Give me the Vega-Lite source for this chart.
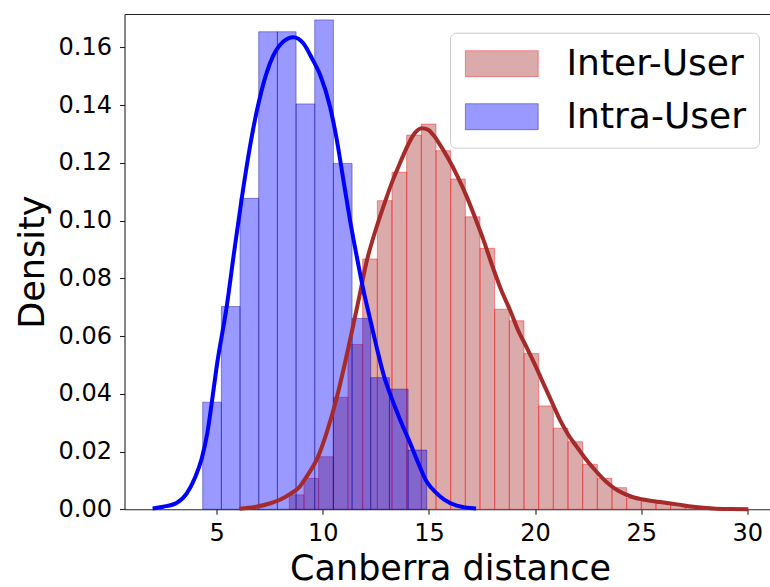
{
  "$schema": "https://vega.github.io/schema/vega-lite/v6.json",
  "width": 645.5,
  "height": 495.3,
  "autosize": "none",
  "padding": {"left": 124.5, "top": 14, "right": 0, "bottom": 77.7},
  "background": "white",
  "config": {
    "view": {"stroke": null},
    "font": "DejaVu Sans",
    "axis": {
      "domainColor": "#222", "domainWidth": 1.1,
      "tickColor": "#222", "tickWidth": 1.1, "tickSize": 5,
      "labelFont": "DejaVu Sans", "labelFontSize": 24, "labelColor": "#000",
      "titleFont": "DejaVu Sans", "titleFontSize": 35, "titleFontWeight": "normal", "titleColor": "#000",
      "grid": false
    }
  },
  "datasets": {
    "hist": [
      {"series": "Inter-User", "x0": 8.421, "x1": 9.112, "d": 0.0050},
      {"series": "Inter-User", "x0": 9.112, "x1": 9.803, "d": 0.0107},
      {"series": "Inter-User", "x0": 9.803, "x1": 10.494, "d": 0.0182},
      {"series": "Inter-User", "x0": 10.494, "x1": 11.185, "d": 0.0388},
      {"series": "Inter-User", "x0": 11.185, "x1": 11.876, "d": 0.0571},
      {"series": "Inter-User", "x0": 11.876, "x1": 12.568, "d": 0.0867},
      {"series": "Inter-User", "x0": 12.568, "x1": 13.259, "d": 0.1069},
      {"series": "Inter-User", "x0": 13.259, "x1": 13.950, "d": 0.1167},
      {"series": "Inter-User", "x0": 13.950, "x1": 14.641, "d": 0.1296},
      {"series": "Inter-User", "x0": 14.641, "x1": 15.332, "d": 0.1334},
      {"series": "Inter-User", "x0": 15.332, "x1": 16.023, "d": 0.1242},
      {"series": "Inter-User", "x0": 16.023, "x1": 16.714, "d": 0.1144},
      {"series": "Inter-User", "x0": 16.714, "x1": 17.405, "d": 0.1013},
      {"series": "Inter-User", "x0": 17.405, "x1": 18.096, "d": 0.0904},
      {"series": "Inter-User", "x0": 18.096, "x1": 18.787, "d": 0.0693},
      {"series": "Inter-User", "x0": 18.787, "x1": 19.478, "d": 0.0653},
      {"series": "Inter-User", "x0": 19.478, "x1": 20.169, "d": 0.0540},
      {"series": "Inter-User", "x0": 20.169, "x1": 20.860, "d": 0.0358},
      {"series": "Inter-User", "x0": 20.860, "x1": 21.551, "d": 0.0281},
      {"series": "Inter-User", "x0": 21.551, "x1": 22.242, "d": 0.0234},
      {"series": "Inter-User", "x0": 22.242, "x1": 22.933, "d": 0.0156},
      {"series": "Inter-User", "x0": 22.933, "x1": 23.625, "d": 0.0107},
      {"series": "Inter-User", "x0": 23.625, "x1": 24.316, "d": 0.0075},
      {"series": "Inter-User", "x0": 24.316, "x1": 25.007, "d": 0.0038},
      {"series": "Inter-User", "x0": 25.007, "x1": 25.698, "d": 0.0027},
      {"series": "Inter-User", "x0": 25.698, "x1": 26.389, "d": 0.0021},
      {"series": "Inter-User", "x0": 26.389, "x1": 27.080, "d": 0.0015},
      {"series": "Inter-User", "x0": 27.080, "x1": 27.771, "d": 0.0008},
      {"series": "Intra-User", "x0": 4.340, "x1": 5.220, "d": 0.0371},
      {"series": "Intra-User", "x0": 5.220, "x1": 6.099, "d": 0.0702},
      {"series": "Intra-User", "x0": 6.099, "x1": 6.979, "d": 0.1077},
      {"series": "Intra-User", "x0": 6.979, "x1": 7.859, "d": 0.1654},
      {"series": "Intra-User", "x0": 7.859, "x1": 8.739, "d": 0.1654},
      {"series": "Intra-User", "x0": 8.739, "x1": 9.618, "d": 0.1404},
      {"series": "Intra-User", "x0": 9.618, "x1": 10.498, "d": 0.1695},
      {"series": "Intra-User", "x0": 10.498, "x1": 11.378, "d": 0.1198},
      {"series": "Intra-User", "x0": 11.378, "x1": 12.257, "d": 0.0661},
      {"series": "Intra-User", "x0": 12.257, "x1": 13.137, "d": 0.0456},
      {"series": "Intra-User", "x0": 13.137, "x1": 14.017, "d": 0.0416},
      {"series": "Intra-User", "x0": 14.017, "x1": 14.896, "d": 0.0205}
    ],
    "kde": [
      {"series": "Inter-User", "x": 6.07, "d": 0.0002},
      {"series": "Inter-User", "x": 6.80, "d": 0.0008},
      {"series": "Inter-User", "x": 7.50, "d": 0.0020},
      {"series": "Inter-User", "x": 7.98, "d": 0.0033},
      {"series": "Inter-User", "x": 8.50, "d": 0.0055},
      {"series": "Inter-User", "x": 8.93, "d": 0.0080},
      {"series": "Inter-User", "x": 9.16, "d": 0.0105},
      {"series": "Inter-User", "x": 9.79, "d": 0.0185},
      {"series": "Inter-User", "x": 10.20, "d": 0.0270},
      {"series": "Inter-User", "x": 10.65, "d": 0.0385},
      {"series": "Inter-User", "x": 11.25, "d": 0.0575},
      {"series": "Inter-User", "x": 11.70, "d": 0.0730},
      {"series": "Inter-User", "x": 12.07, "d": 0.0860},
      {"series": "Inter-User", "x": 12.50, "d": 0.0970},
      {"series": "Inter-User", "x": 12.93, "d": 0.1065},
      {"series": "Inter-User", "x": 13.30, "d": 0.1140},
      {"series": "Inter-User", "x": 13.64, "d": 0.1200},
      {"series": "Inter-User", "x": 14.00, "d": 0.1260},
      {"series": "Inter-User", "x": 14.30, "d": 0.1300},
      {"series": "Inter-User", "x": 14.66, "d": 0.1320},
      {"series": "Inter-User", "x": 14.95, "d": 0.1315},
      {"series": "Inter-User", "x": 15.21, "d": 0.1296},
      {"series": "Inter-User", "x": 15.50, "d": 0.1265},
      {"series": "Inter-User", "x": 15.91, "d": 0.1215},
      {"series": "Inter-User", "x": 16.30, "d": 0.1160},
      {"series": "Inter-User", "x": 16.78, "d": 0.1083},
      {"series": "Inter-User", "x": 17.20, "d": 0.1005},
      {"series": "Inter-User", "x": 17.56, "d": 0.0935},
      {"series": "Inter-User", "x": 18.00, "d": 0.0840},
      {"series": "Inter-User", "x": 18.40, "d": 0.0760},
      {"series": "Inter-User", "x": 18.82, "d": 0.0690},
      {"series": "Inter-User", "x": 19.20, "d": 0.0620},
      {"series": "Inter-User", "x": 19.61, "d": 0.0560},
      {"series": "Inter-User", "x": 20.00, "d": 0.0500},
      {"series": "Inter-User", "x": 20.39, "d": 0.0436},
      {"series": "Inter-User", "x": 20.80, "d": 0.0370},
      {"series": "Inter-User", "x": 21.18, "d": 0.0309},
      {"series": "Inter-User", "x": 21.55, "d": 0.0260},
      {"series": "Inter-User", "x": 21.96, "d": 0.0217},
      {"series": "Inter-User", "x": 22.35, "d": 0.0178},
      {"series": "Inter-User", "x": 22.75, "d": 0.0142},
      {"series": "Inter-User", "x": 23.15, "d": 0.0110},
      {"series": "Inter-User", "x": 23.53, "d": 0.0084},
      {"series": "Inter-User", "x": 23.90, "d": 0.0065},
      {"series": "Inter-User", "x": 24.32, "d": 0.0050},
      {"series": "Inter-User", "x": 24.70, "d": 0.0040},
      {"series": "Inter-User", "x": 25.10, "d": 0.0034},
      {"series": "Inter-User", "x": 25.50, "d": 0.0029},
      {"series": "Inter-User", "x": 25.89, "d": 0.0025},
      {"series": "Inter-User", "x": 26.68, "d": 0.0017},
      {"series": "Inter-User", "x": 27.46, "d": 0.0009},
      {"series": "Inter-User", "x": 28.40, "d": 0.0003},
      {"series": "Inter-User", "x": 29.20, "d": 0.0001},
      {"series": "Inter-User", "x": 30.05, "d": 0.0000},
      {"series": "Intra-User", "x": 1.98, "d": 0.0003},
      {"series": "Intra-User", "x": 2.48, "d": 0.0009},
      {"series": "Intra-User", "x": 3.11, "d": 0.0022},
      {"series": "Intra-User", "x": 3.59, "d": 0.0055},
      {"series": "Intra-User", "x": 3.98, "d": 0.0110},
      {"series": "Intra-User", "x": 4.29, "d": 0.0175},
      {"series": "Intra-User", "x": 4.56, "d": 0.0265},
      {"series": "Intra-User", "x": 4.75, "d": 0.0360},
      {"series": "Intra-User", "x": 5.00, "d": 0.0495},
      {"series": "Intra-User", "x": 5.47, "d": 0.0702},
      {"series": "Intra-User", "x": 5.80, "d": 0.0880},
      {"series": "Intra-User", "x": 6.18, "d": 0.1077},
      {"series": "Intra-User", "x": 6.60, "d": 0.1270},
      {"series": "Intra-User", "x": 6.95, "d": 0.1400},
      {"series": "Intra-User", "x": 7.51, "d": 0.1545},
      {"series": "Intra-User", "x": 8.14, "d": 0.1620},
      {"series": "Intra-User", "x": 8.61, "d": 0.1635},
      {"series": "Intra-User", "x": 9.08, "d": 0.1614},
      {"series": "Intra-User", "x": 9.50, "d": 0.1560},
      {"series": "Intra-User", "x": 9.87, "d": 0.1505},
      {"series": "Intra-User", "x": 10.34, "d": 0.1394},
      {"series": "Intra-User", "x": 10.66, "d": 0.1279},
      {"series": "Intra-User", "x": 10.97, "d": 0.1140},
      {"series": "Intra-User", "x": 11.28, "d": 0.1002},
      {"series": "Intra-User", "x": 11.60, "d": 0.0875},
      {"series": "Intra-User", "x": 11.91, "d": 0.0760},
      {"series": "Intra-User", "x": 12.22, "d": 0.0661},
      {"series": "Intra-User", "x": 12.54, "d": 0.0560},
      {"series": "Intra-User", "x": 12.85, "d": 0.0470},
      {"series": "Intra-User", "x": 13.32, "d": 0.0370},
      {"series": "Intra-User", "x": 13.70, "d": 0.0300},
      {"series": "Intra-User", "x": 14.11, "d": 0.0230},
      {"series": "Intra-User", "x": 14.50, "d": 0.0160},
      {"series": "Intra-User", "x": 14.90, "d": 0.0095},
      {"series": "Intra-User", "x": 15.37, "d": 0.0055},
      {"series": "Intra-User", "x": 15.70, "d": 0.0034},
      {"series": "Intra-User", "x": 16.31, "d": 0.0013},
      {"series": "Intra-User", "x": 17.22, "d": 0.0003}
    ]
  },
  "layer": [
    {
      "data": {"name": "hist"},
      "mark": {"type": "rect", "fillOpacity": 0.4, "strokeOpacity": 0.4, "strokeWidth": 1},
      "encoding": {
        "x": {"field": "x0", "type": "quantitative",
          "scale": {"domain": [0.655, 31.07], "nice": false, "zero": false},
          "axis": {"orient": "bottom", "values": [5, 10, 15, 20, 25, 30], "format": "d", "labelPadding": 7,
                   "title": "Canberra distance", "titlePadding": 6, "titleX": 325.5}},
        "x2": {"field": "x1"},
        "y": {"field": "d", "type": "quantitative", "title": "Density",
          "scale": {"domain": [0, 0.17154], "nice": false},
          "axis": {"values": [0, 0.02, 0.04, 0.06, 0.08, 0.1, 0.12, 0.14, 0.16], "format": ".2f", "labelPadding": 8, "titlePadding": 8}},
        "y2": {"datum": 0},
        "color": {"field": "series", "type": "nominal",
          "scale": {"domain": ["Inter-User", "Intra-User"], "range": ["#a52a2a", "#0000ff"]},
          "legend": {"orient": "none", "legendX": 325.5, "legendY": 18.7, "title": null,
            "symbolType": "M-1.2,-1H4.4V1H-1.2Z", "symbolSize": 676, "symbolStrokeWidth": 1,
            "labelFont": "DejaVu Sans", "labelFontSize": 36, "labelColor": "#000", "labelOffset": 67.5, "labelLimit": 400,
            "padding": 13, "rowPadding": 17, "strokeColor": "#cccccc", "fillColor": "#ffffff", "cornerRadius": 6,
            "encode": {"symbols": {"update": {"fillOpacity": {"value": 0.4}, "strokeOpacity": {"value": 0.4},
              "stroke": {"signal": "datum.value === 'Inter-User' ? 'red' : 'darkblue'"}}}}}},
        "stroke": {"field": "series", "type": "nominal",
          "scale": {"domain": ["Inter-User", "Intra-User"], "range": ["#ff0000", "#00008b"]},
          "legend": null}
      }
    },
    {
      "data": {"name": "kde"},
      "transform": [{"filter": "datum.series === 'Inter-User'"}],
      "mark": {"type": "line", "color": "#a52a2a", "strokeWidth": 4, "interpolate": "monotone"},
      "encoding": {
        "x": {"field": "x", "type": "quantitative",
          "axis": {"orient": "top", "labels": false, "ticks": false, "title": null, "domain": true}},
        "y": {"field": "d", "type": "quantitative", "title": "Density"}
      }
    },
    {
      "data": {"name": "kde"},
      "transform": [{"filter": "datum.series === 'Intra-User'"}],
      "mark": {"type": "line", "color": "#0000ff", "strokeWidth": 4, "interpolate": "monotone"},
      "encoding": {
        "x": {"field": "x", "type": "quantitative", "axis": null},
        "y": {"field": "d", "type": "quantitative", "title": "Density"}
      }
    }
  ],
  "resolve": {"axis": {"x": "independent"}}
}
